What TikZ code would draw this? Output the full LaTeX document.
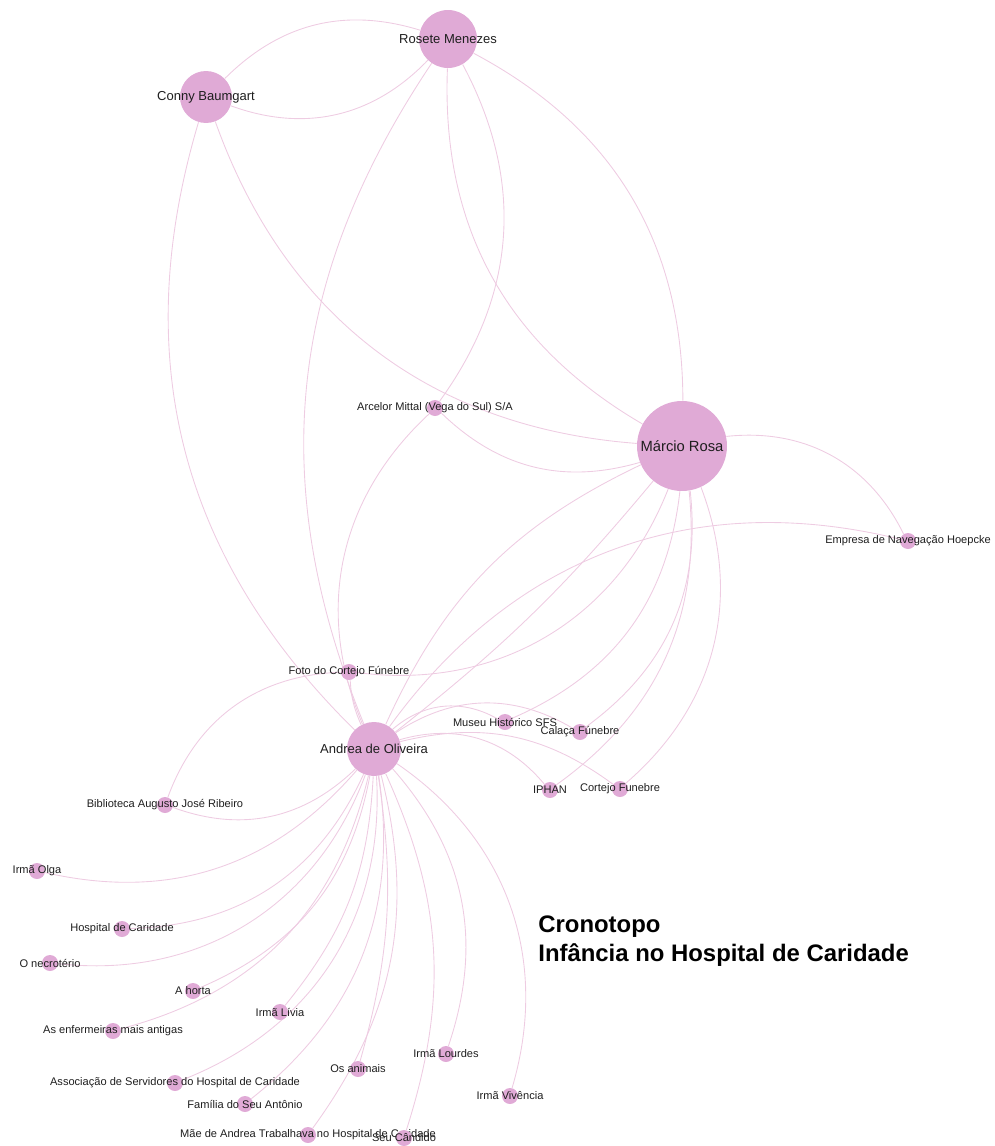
\documentclass[tikz,border=0pt]{standalone}
\usepackage{fontspec}
\setmainfont{Liberation Sans}
\usepackage{tikz}
\pgfdeclarelayer{bg}
\pgfsetlayers{bg,main}

\definecolor{nodepink}{RGB}{224,170,214}
\definecolor{linkpink}{RGB}{238,204,226}
\definecolor{labelgray}{RGB}{30,30,30}

\begin{document}
\begin{tikzpicture}[x=0.02cm,y=-0.02cm]

% Define styles
\tikzset{
    actor/.style={circle, fill=nodepink, inner sep=0pt, minimum size=#1},
    place/.style={circle, fill=nodepink, inner sep=0pt, minimum size=0.32cm},
    biglabel/.style={text=labelgray, font=\fontsize{7.4}{8}\selectfont},
    smalllabel/.style={text=labelgray, font=\fontsize{6.3}{7}\selectfont},
    link/.style={draw=linkpink, line width=0.5pt},
    title/.style={text=black, align=left, inner sep=0pt, font=\fontsize{13.6}{16.5}\selectfont\bfseries}
}

\useasboundingbox (0,0) rectangle (994,1146);

% people
\node[actor=1.16cm, label={[biglabel]center:Rosete Menezes}] (rosete) at (448,39) {};
\node[actor=1.04cm, label={[biglabel]center:Conny Baumgart}] (conny) at (206,97) {};
\node[actor=1.8cm, label={[biglabel, font=\fontsize{8.4}{9}\selectfont]center:Márcio Rosa}] (marcio) at (682,446) {};
\node[actor=1.08cm, label={[biglabel]center:Andrea de Oliveira}] (andrea) at (374,749) {};

% places and things
\node[place, label={[smalllabel]center:Arcelor Mittal (Vega do Sul) S/A}] (arcelor) at (435,408) {};
\node[place, label={[smalllabel]center:Empresa de Navegação Hoepcke}] (empresa) at (908,541) {};
\node[place, label={[smalllabel]center:Foto do Cortejo Fúnebre}] (foto) at (349,672) {};
\node[place, label={[smalllabel]center:Museu Histórico SFS}] (museu) at (505,722) {};
\node[place, label={[smalllabel]center:Calaça Fúnebre}] (calaca) at (580,732) {};
\node[place, label={[smalllabel]center:IPHAN}] (iphan) at (550,790) {};
\node[place, label={[smalllabel]center:Cortejo Funebre}] (cortejo) at (620,789) {};
\node[place, label={[smalllabel]center:Biblioteca Augusto José Ribeiro}] (biblioteca) at (165,805) {};
\node[place, label={[smalllabel]center:Irmã Olga}] (olga) at (37,871) {};
\node[place, label={[smalllabel]center:Hospital de Caridade}] (hospital) at (122,929) {};
\node[place, label={[smalllabel]center:O necrotério}] (necroterio) at (50,963) {};
\node[place, label={[smalllabel]center:A horta}] (horta) at (193,991) {};
\node[place, label={[smalllabel]center:Irmã Lívia}] (livia) at (280,1012) {};
\node[place, label={[smalllabel]center:As enfermeiras mais antigas}] (enfermeiras) at (113,1031) {};
\node[place, label={[smalllabel]center:Irmã Lourdes}] (lourdes) at (446,1054) {};
\node[place, label={[smalllabel]center:Os animais}] (animais) at (358,1069) {};
\node[place, label={[smalllabel]center:Irmã Vivência}] (vivencia) at (510,1096) {};
\node[place, label={[smalllabel]center:Associação de Servidores do Hospital de Caridade}] (associacao) at (175,1083) {};
\node[place, label={[smalllabel]center:Família do Seu Antônio}] (familia) at (245,1104) {};
\node[place, label={[smalllabel]center:Mãe de Andrea Trabalhava no Hospital de Caridade}] (mae) at (308,1135) {};
\node[place, label={[smalllabel]center:Seu Cândido}] (candido) at (404,1138) {};

% title
\node[title, anchor=north west] (titulo) at (538,915) {Cronotopo\\Infância no Hospital de Caridade};

% links
\begin{pgfonlayer}{bg}
\draw[link] (conny) to[bend left=31] (rosete);
\draw[link] (rosete) to[bend left=33] (conny);
\draw[link] (andrea) to[bend left=31] (conny);
\draw[link] (conny) to[bend right=33] (marcio);
\draw[link] (andrea) to[bend left=28] (rosete);
\draw[link] (rosete) to[bend left=32] (arcelor);
\draw[link] (rosete) to[bend right=31] (marcio);
\draw[link] (rosete) to[bend left=31] (marcio);
\draw[link] (arcelor) to[bend right=30] (marcio);
\draw[link] (andrea) to[bend left=35] (arcelor);
\draw[link] (marcio) to[bend left=35] (empresa);
\draw[link] (andrea) to[bend left=34] (empresa);
\draw[link] (biblioteca) to[bend left=34] (foto);
\draw[link] (marcio) to[bend left=38] (foto);
\draw[link] (andrea) to[bend left=32] (biblioteca);
\draw[link] (andrea) to[bend left=10] (foto);
\draw[link] (andrea) to[bend left=20] (marcio);
\draw[link] (marcio) to[bend left=6] (andrea);
% to the museum side
\draw[link] (marcio) to[bend left=30] (museu);
\draw[link] (marcio) to[bend left=30] (calaca);
\draw[link] (marcio) to[bend left=30] (iphan);
\draw[link] (marcio) to[bend left=35] (cortejo);
\draw[link] (andrea) to[bend left=35] (museu);
\draw[link] (andrea) to[bend left=32] (calaca);
\draw[link] (andrea) to[bend left=33] (iphan);
\draw[link] (andrea) to[bend left=25] (cortejo);
% fan below andrea
\draw[link] (andrea) to[bend left=31] (olga);
\draw[link] (andrea) to[bend left=32] (hospital);
\draw[link] (andrea) to[bend left=38] (necroterio);
\draw[link] (andrea) to[bend left=28] (horta);
\draw[link] (andrea) to[bend left=31] (enfermeiras);
\draw[link] (andrea) to[bend left=18] (livia);
\draw[link] (andrea) to[bend left=36] (associacao);
\draw[link] (andrea) to[bend left=30] (familia);
\draw[link] (andrea) to[bend left=25] (mae);
\draw[link] (andrea) to[bend left=12] (animais);
\draw[link] (andrea) to[bend left=21] (candido);
\draw[link] (andrea) to[bend left=30] (lourdes);
\draw[link] (andrea) to[bend left=36] (vivencia);
\end{pgfonlayer}

\end{tikzpicture}
\end{document}
